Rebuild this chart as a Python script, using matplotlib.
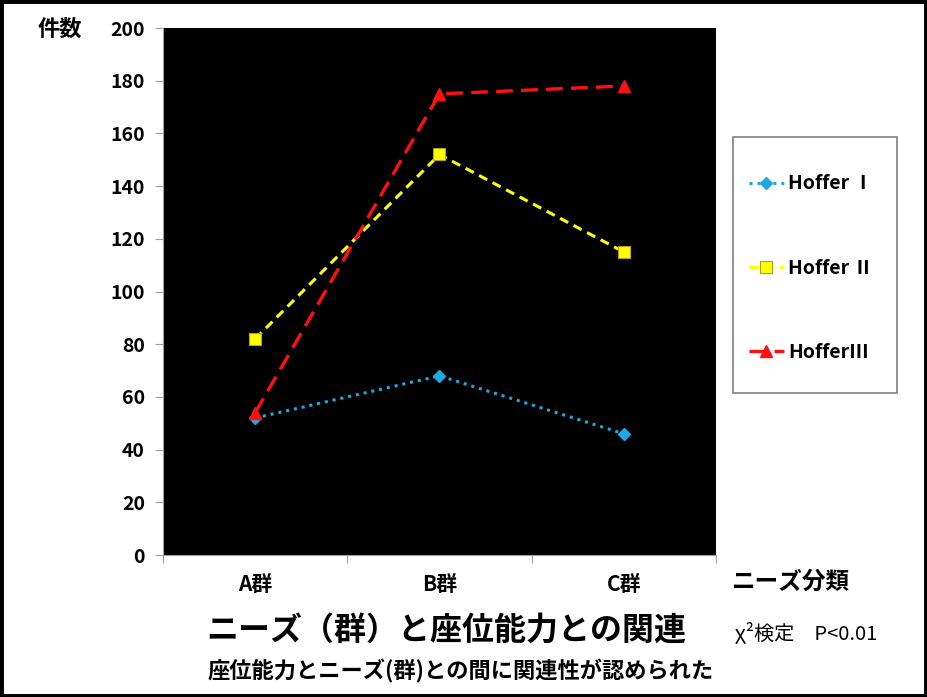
import matplotlib.pyplot as plt
import matplotlib.patches as mpatches

plt.rcParams['font.family'] = ['Noto Sans CJK JP', 'DejaVu Sans']

# データ
groups = ['A群', 'B群', 'C群']
hoffer1 = [52, 68, 46]
hoffer2 = [82, 152, 115]
hoffer3 = [54, 175, 178]
labels = ['Hoffer Ⅰ', 'Hoffer Ⅱ', 'HofferⅢ']
yticks = [0, 20, 40, 60, 80, 100, 120, 140, 160, 180, 200]

fig = plt.figure(figsize=(9.27, 6.97), dpi=100)
ax = fig.add_axes([0.1758, 0.2037, 0.5966, 0.7561])
ax.set_facecolor('black')

x = range(len(groups))
ax.plot(x, hoffer1, color='#1EA7E1', linestyle=(0, (1, 1.6)), linewidth=2.2,
        marker='D', markersize=6, label=labels[0])
ax.plot(x, hoffer2, color='#FFFF00', linestyle=(0, (3, 2)), linewidth=2.2,
        marker='s', markersize=9, markeredgecolor='#B8A000', markeredgewidth=0.8,
        label=labels[1])
ax.plot(x, hoffer3, color='#FF1010', linestyle=(0, (5, 2.5)), linewidth=2.4,
        marker='^', markersize=9, label=labels[2])

ax.set_xlim(-0.5, 2.5)
ax.set_ylim(0, 200)
ax.set_yticks(yticks)
ax.set_yticklabels([str(v) for v in yticks], fontsize=14, fontweight='bold')
ax.set_xticks([-0.5, 0.5, 1.5, 2.5])
ax.set_xticklabels([])
ax.set_xticks(list(x), minor=True)
ax.set_xticklabels(groups, minor=True, fontsize=15, fontweight='bold')
ax.tick_params(axis='x', which='minor', length=0, pad=14)
ax.tick_params(axis='x', which='major', length=6, color='#A0A0A0', direction='out')
ax.tick_params(axis='y', length=6, color='#A0A0A0', direction='out', pad=7)
for s in ['left', 'bottom']:
    ax.spines[s].set_color('#A0A0A0')
for s in ['top', 'right']:
    ax.spines[s].set_visible(False)

fig.text(60 / 927, 1 - 29 / 697, '件数', fontsize=16, fontweight='bold',
         ha='center', va='center')
fig.text(791 / 927, 1 - 582 / 697, 'ニーズ分類', fontsize=17, fontweight='bold',
         ha='center', va='center')
fig.text(446 / 927, 1 - 632 / 697, 'ニーズ（群）と座位能力との関連', fontsize=23,
         fontweight='bold', ha='center', va='center')
fig.text(806 / 927, 1 - 633 / 697, 'χ²検定　P<0.01', fontsize=14.5,
         ha='center', va='center')
fig.text(461 / 927, 1 - 671 / 697, '座位能力とニーズ(群)との間に関連性が認められた',
         fontsize=16, fontweight='bold', ha='center', va='center')

# 凡例（枠は別に描く）
fig.legend(loc='center', bbox_to_anchor=(811 / 927, 1 - 268 / 697),
           prop={'size': 14, 'weight': 'bold'}, labelspacing=3.35,
           handlelength=1.8, handletextpad=0.25, borderpad=0,
           frameon=False)
fig.patches.append(mpatches.Rectangle((733 / 927, 1 - 393 / 697), 164 / 927, 256 / 697,
                                      transform=fig.transFigure, facecolor='none',
                                      edgecolor='#808080', linewidth=1.2))

fig.patches.append(mpatches.Rectangle((0, 0), 1, 1, transform=fig.transFigure,
                                      fill=False, edgecolor='black', linewidth=5))

fig.savefig('out.png', dpi=100)
